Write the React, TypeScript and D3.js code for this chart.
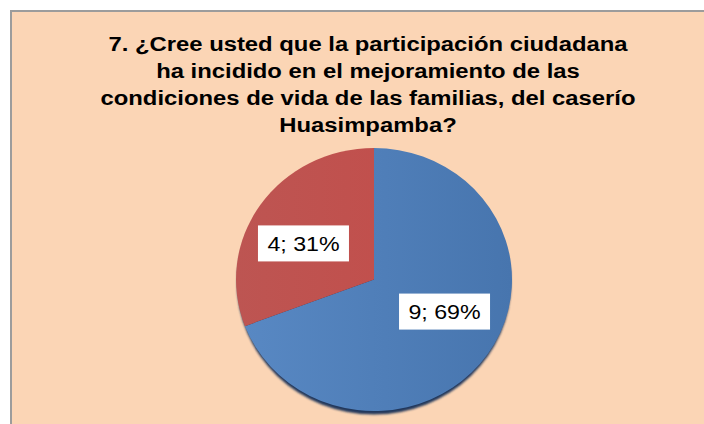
import React from "react";
import * as d3 from "d3";

const categories: string[] = ["Sí", "No"];
const values: number[] = [9, 4];
const percentLabels: string[] = ["69%", "31%"];
const titleLines: string[] = [
  "7. ¿Cree usted que la participación ciudadana",
  "ha incidido en el mejoramiento de las",
  "condiciones de vida de las familias, del caserío",
  "Huasimpamba?",
];
const sliceColors: [string, string][] = [
  ["#5888C3", "#4775AE"],
  ["#BD5552", "#C1504D"],
];

export default function App() {
  const W = 704;
  const H = 424;
  const cx = 374;
  const cy = 279.5;
  const rx = 138;
  const ry = 131.5;

  const pie = d3
    .pie<number>()
    .sort(null)
    .value((d) => d)
    .startAngle(0)
    .endAngle(2 * Math.PI);
  const arcs = pie(values);
  const arc = d3.arc<d3.PieArcDatum<number>>().innerRadius(0).outerRadius(rx);

  const labelR = 85.7;
  const labelK = 0.7;
  const labelCy = 277.5;

  return (
    <svg
      width={W}
      height={H}
      style={{ position: "absolute", left: 0, top: 0, display: "block" }}
    >
      <defs>
        {sliceColors.map((c, i) => (
          <linearGradient key={i} id={`g${i}`} x1="0" y1="0" x2="1" y2="0">
            <stop offset="0%" stopColor={c[0]} />
            <stop offset="100%" stopColor={c[1]} />
          </linearGradient>
        ))}
        <filter id="blur" x="-10%" y="-10%" width="120%" height="120%">
          <feGaussianBlur stdDeviation="1" />
        </filter>
      </defs>
      <rect x={0} y={0} width={W} height={H} fill="#ffffff" />
      <rect
        x={11}
        y={11}
        width={W + 20}
        height={H + 20}
        fill="#FBD5B5"
        stroke="#9C9C9C"
        strokeWidth={2}
      />
      <g
        transform={`translate(368,0) scale(1.135,1)`}
        fontFamily="'Liberation Sans', Arial, sans-serif"
        fontWeight="bold"
        fontSize={21}
        fill="#000"
        textAnchor="middle"
      >
        {titleLines.map((t, i) => (
          <text key={i} x={0} y={51 + i * 27}>
            {t}
          </text>
        ))}
      </g>
      <ellipse
        cx={cx}
        cy={cy + 3.5}
        rx={rx - 1}
        ry={ry}
        fill="#22395C"
        filter="url(#blur)"
      />
      <g transform={`translate(${cx},${cy}) scale(1,${ry / rx})`}>
        {arcs.map((a, i) => (
          <path
            key={categories[i]}
            d={arc(a) || ""}
            fill={`url(#g${i})`}
          />
        ))}
      </g>
      {arcs.map((a, i) => {
        const mid = (a.startAngle + a.endAngle) / 2;
        const lx = cx + labelR * Math.sin(mid);
        const ly = labelCy - labelR * labelK * Math.cos(mid);
        const bw = 91;
        const bh = 36;
        return (
          <g key={"l" + i}>
            <rect x={lx - bw / 2} y={ly - bh / 2} width={bw} height={bh} fill="#ffffff" />
            <g transform={`translate(${lx},${ly + 7.5}) scale(1.16,1)`}>
              <text
                x={0}
                y={0}
                textAnchor="middle"
                fontFamily="'Liberation Sans', Arial, sans-serif"
                fontSize={20}
                fill="#000"
              >
                {`${values[i]}; ${percentLabels[i]}`}
              </text>
            </g>
          </g>
        );
      })}
    </svg>
  );
}
